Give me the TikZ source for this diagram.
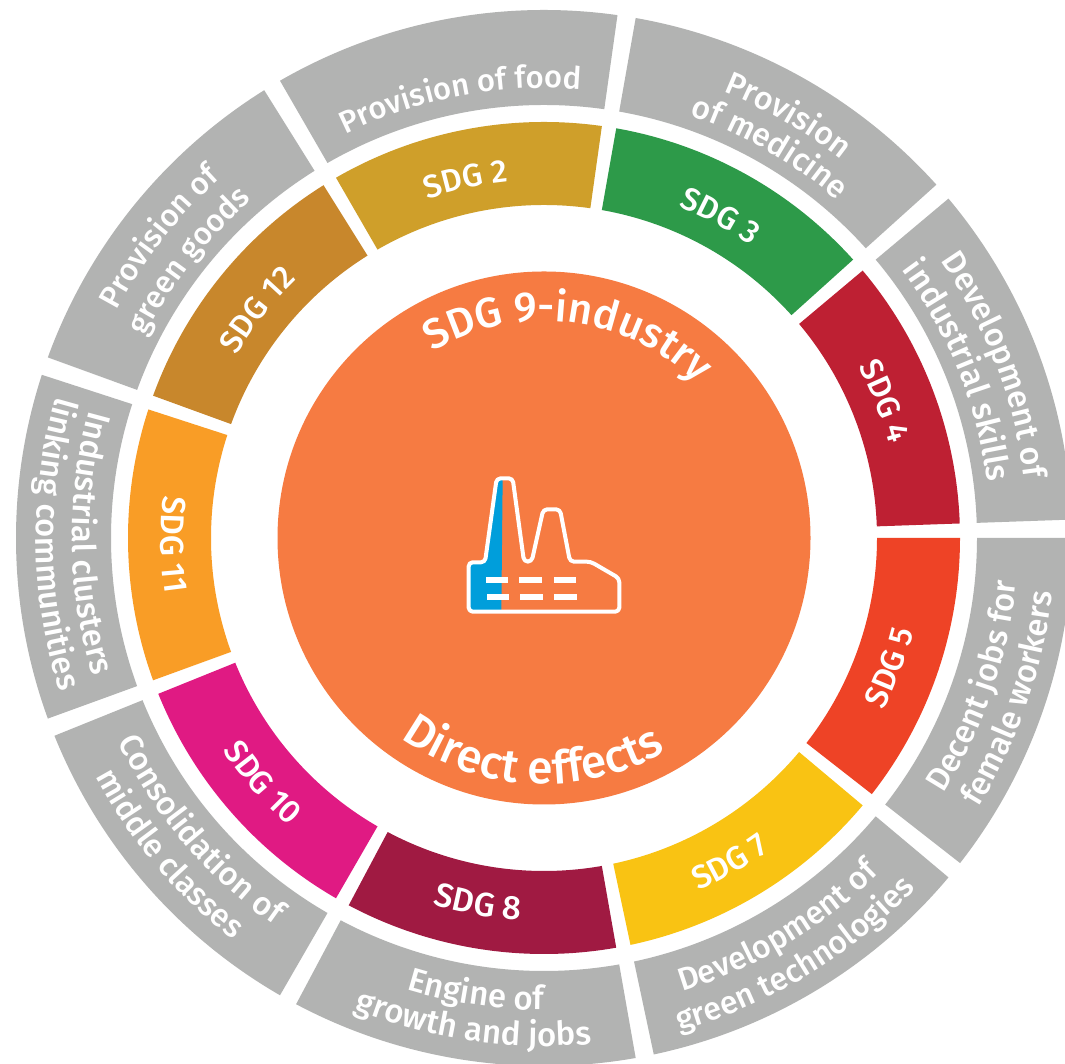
\documentclass[tikz,border=0pt]{standalone}
\usepackage{fontspec}
\setmainfont{Fira Sans Medium}
\usetikzlibrary{decorations.text}
\definecolor{grayseg}{HTML}{B2B3B2}
\definecolor{core}{HTML}{F67B42}
\definecolor{iconblue}{HTML}{009EDB}
\definecolor{sdgtwo}{HTML}{CF9F2A}
\definecolor{sdgthree}{HTML}{2D9A49}
\definecolor{sdgfour}{HTML}{BE2033}
\definecolor{sdgfive}{HTML}{EE4326}
\definecolor{sdgseven}{HTML}{F9C313}
\definecolor{sdgeight}{HTML}{A01A42}
\definecolor{sdgten}{HTML}{E01A83}
\definecolor{sdgeleven}{HTML}{F99D26}
\definecolor{sdgtwelve}{HTML}{C8872C}
\newcommand{\fs}[1]{\fontsize{#1}{#1}\selectfont\color{white}}
\newcommand{\sector}[4]{\fill[#4] ({#1-19}:#2pt) arc[start angle={#1-19},end angle={#1+19},radius=#2pt] -- ({#1+19}:#3pt) arc[start angle={#1+19},end angle={#1-19},radius=#3pt] -- cycle;}
\newcommand{\cwtext}[5]{\path[decorate,decoration={text along path,text align=center,text={|\fs{#4}|#5}}] ({#1+#3}:#2pt) arc[start angle={#1+#3},end angle={#1-#3},radius=#2pt];}
\newcommand{\ccwtext}[5]{\path[decorate,decoration={text along path,text align=center,text={|\fs{#4}|#5}}] ({#1-#3}:#2pt) arc[start angle={#1-#3},end angle={#1+#3},radius=#2pt];}
\begin{document}
\begin{tikzpicture}[x=1pt,y=1pt]
\useasboundingbox (0,0) rectangle (1065,1064);
\fill[white] (0,0) rectangle (1065,1064);
\begin{scope}[shift={(544,526)}]
\fill[core] (0,0) circle[radius=266.5pt];
\sector{21}{333}{416}{sdgfour}
\sector{61}{333}{416}{sdgthree}
\sector{101}{333}{416}{sdgtwo}
\sector{141}{333}{416}{sdgtwelve}
\sector{181}{333}{416}{sdgeleven}
\sector{221}{333}{416}{sdgten}
\sector{261}{333}{416}{sdgeight}
\sector{301}{333}{416}{sdgseven}
\sector{341}{333}{416}{sdgfive}
\foreach \a in {21,61,...,341}{\sector{\a}{433}{528}{grayseg}}
\cwtext{102.3}{358}{30}{32}{SDG 2}
\cwtext{61.3}{358}{30}{32}{SDG 3}
\cwtext{21.9}{358}{30}{32}{SDG 4}
\cwtext{141.5}{358}{30}{32}{SDG 12}
\ccwtext{339.5}{381}{30}{32.5}{SDG 5}
\ccwtext{299.8}{385}{30}{32.5}{SDG 7}
\ccwtext{259.8}{383}{30}{33.5}{SDG 8}
\ccwtext{221}{385}{30}{32.5}{SDG 10}
\ccwtext{181}{383}{30}{33}{SDG 11}
\cwtext{100.8}{450}{40}{31}{Provision of food}
\cwtext{60}{481}{40}{32}{Provision}
\cwtext{60}{447}{40}{32}{of medicine}
\cwtext{21}{484}{40}{32.5}{Development of}
\cwtext{22}{447}{40}{33}{industrial skills}
\cwtext{142}{484}{40}{31}{Provision of}
\cwtext{142}{447}{40}{31}{green goods}
\ccwtext{341}{474}{40}{32.5}{Decent jobs for}
\ccwtext{341}{511}{40}{32.5}{female workers}
\ccwtext{301}{474}{40}{32}{Development of}
\ccwtext{301}{511}{40}{32}{green technologies}
\ccwtext{261.5}{472}{40}{33}{Engine of}
\ccwtext{261.7}{508}{40}{33}{growth and jobs}
\ccwtext{220.3}{472}{40}{32.5}{Consolidation of}
\ccwtext{220.1}{508}{40}{32}{middle classes}
\ccwtext{180.7}{472}{40}{32.5}{Industrial clusters}
\ccwtext{180.7}{508}{40}{32.5}{linking communities}
\cwtext{83}{217}{80}{42}{SDG 9-industry}
\ccwtext{267}{246}{70}{46}{Direct effects}
\end{scope}
\begin{scope}[shift={(450pt,604pt)},x=0.3333pt,y=-0.3333pt]
\fill[iconblue] (56,455) -- (56,310) -- (105,307) -- (140,55) -- (158,55) -- (154,455) -- cycle;
\draw[white,line width=4pt,rounded corners=4pt,line join=round] (56,455) -- (56,307) -- (105,307) -- (140,55) -- (188,55) -- (222,305) -- (245,305) -- (280,148) -- (330,148) -- (360,305) -- (422,305) -- (508,355) -- (508,455) -- cycle;
\foreach \xa/\ya in {108/360,208/360,311/360,110/411,211/411,313/411}{
  \fill[white] (\xa,\ya-10) rectangle (\xa+67,\ya+10);
}
\end{scope}
\end{tikzpicture}
\end{document}
